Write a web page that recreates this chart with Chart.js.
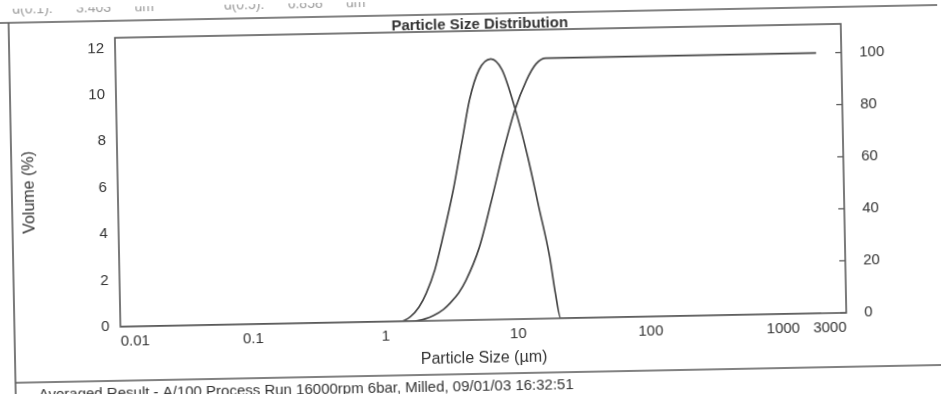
<!DOCTYPE html>
<html>
<head>
<meta charset="utf-8">
<script src="https://cdn.jsdelivr.net/npm/chart.js@4.4.0/dist/chart.umd.min.js"></script>
<style>
  html, body { margin: 0; padding: 0; background: #fff; overflow: hidden; }
  /* the scan is slightly tilted */
  #wrap { width: 941px; height: 394px; transform: rotate(-1.1deg); transform-origin: 50% 50%; }
</style>
</head>
<body>
<div id="wrap"><canvas id="psd" width="941" height="394"></canvas></div>
<script>
// x ticks (µm) and y ticks
const sizeTicks = [0.01, 0.1, 1, 10, 100, 1000, 3000];
const volTicks = [0, 2, 4, 6, 8, 10, 12];
const cumTicks = [0, 20, 40, 60, 80, 100];

// frequency curve, Volume (%)
const freqSize = [0.01, 1.3, 1.55, 1.8, 2.05, 2.4, 2.75, 3.39, 4.03, 4.63, 5.52, 6.8, 8.23, 10.1, 12.5, 14.9, 17.7, 19.3, 21.0, 1936];
const freqVol  = [0, 0, 0.2, 0.6, 1.19, 2.2, 3.46, 5.61, 7.76, 9.48, 10.77, 11.23, 10.75, 9.15, 6.98, 4.81, 2.65, 1.09, 0, 0];

// cumulative curve, right axis (%)
const cumSize = [0.01, 1.65, 2.0, 2.31, 2.75, 3.11, 3.6, 4.10, 5.23, 6.56, 8.23, 10.1, 12.5, 14.9, 17.7, 1936];
const cumVol  = [0, 0, 0.8, 2.0, 4.3, 6.8, 10.5, 15.2, 27.8, 45.7, 64.8, 80, 91.5, 97.9, 100, 100];

const ink = '#474747';
const txt = '#333';
const fam = '"Liberation Sans", Arial, sans-serif';

const toPts = (xs, ys) => xs.map((x, i) => ({ x: x, y: ys[i] }));

// frame, titles and right-axis tick marks
const paperPlugin = {
  id: 'paper',
  afterDraw(chart) {
    const ctx = chart.ctx;
    const a = chart.chartArea;
    ctx.save();
    ctx.strokeStyle = '#5a5a5a';
    ctx.lineWidth = 1.6;
    // plot box
    ctx.strokeRect(a.left, a.top, a.right - a.left, a.bottom - a.top);
    // page frame
    ctx.beginPath();
    ctx.moveTo(0, 14); ctx.lineTo(941, 14);
    ctx.moveTo(12, 14); ctx.lineTo(12, 394);
    ctx.moveTo(12, 374); ctx.lineTo(941, 374);
    ctx.stroke();
    // inner ticks on right axis
    const y2 = chart.scales.y2;
    ctx.lineWidth = 1.2;
    ctx.beginPath();
    cumTicks.forEach(v => {
      const py = y2.getPixelForValue(v);
      ctx.moveTo(a.right - 6, py); ctx.lineTo(a.right, py);
    });
    ctx.stroke();

    ctx.fillStyle = txt;
    ctx.textBaseline = 'middle';
    ctx.textAlign = 'center';
    ctx.font = 'bold 15px ' + fam;
    ctx.fillText('Particle Size Distribution', (a.left + a.right) / 2 + 2, 25);

    // left axis title
    ctx.save();
    ctx.translate(30, 184);
    ctx.rotate(-Math.PI / 2);
    ctx.font = '16px ' + fam;
    ctx.fillText('Volume (%)', 0, 0);
    ctx.restore();

    ctx.textAlign = 'left';
    ctx.font = '15px ' + fam;
    ctx.fillText('Averaged Result - A/100 Process Run 16000rpm 6bar, Milled, 09/01/03 16:32:51', 35, 387);

    ctx.fillStyle = '#9a9a9a';
    ctx.font = '14px ' + fam;
    ctx.fillText('d(0.1):      3.403      um                  d(0.5):      6.858      um', 16, 1);
    ctx.restore();
  }
};

new Chart(document.getElementById('psd'), {
  type: 'line',
  data: {
    datasets: [
      {
        label: 'Volume (%)',
        data: toPts(freqSize, freqVol),
        yAxisID: 'y',
        borderColor: ink,
        borderWidth: 1.7,
        pointRadius: 0,
        fill: false,
        cubicInterpolationMode: 'monotone'
      },
      {
        label: 'Cumulative (%)',
        data: toPts(cumSize, cumVol),
        yAxisID: 'y2',
        borderColor: ink,
        borderWidth: 1.7,
        pointRadius: 0,
        fill: false,
        cubicInterpolationMode: 'monotone'
      }
    ]
  },
  options: {
    responsive: false,
    animation: false,
    layout: { padding: { left: 18, right: 0, top: 31, bottom: 0 } },
    plugins: { legend: { display: false }, tooltip: { enabled: false } },
    scales: {
      x: {
        type: 'logarithmic',
        min: 0.01,
        max: 3000,
        afterBuildTicks: s => { s.ticks = sizeTicks.map(v => ({ value: v })); },
        afterFit: s => { s.height = 74; },
        grid: { display: false, drawTicks: false },
        border: { display: false },
        ticks: {
          autoSkip: false,
          maxRotation: 0,
          align: 'inner',
          padding: 6,
          color: txt,
          font: { family: fam, size: 15 },
          callback: v => String(v)
        },
        title: {
          display: true,
          text: 'Particle Size (µm)',
          color: txt,
          font: { family: fam, size: 16 },
          padding: { top: 0, bottom: 26 }
        }
      },
      y: {
        position: 'left',
        min: 0,
        max: 12.45,
        afterBuildTicks: s => { s.ticks = volTicks.map(v => ({ value: v })); },
        afterFit: s => { s.width = 100; },
        grid: { display: false, drawTicks: false },
        border: { display: false },
        ticks: { padding: 11, color: txt, font: { family: fam, size: 15 } }
      },
      y2: {
        position: 'right',
        min: 0,
        max: 111,
        afterBuildTicks: s => { s.ticks = cumTicks.map(v => ({ value: v })); },
        afterFit: s => { s.width = 97; },
        grid: { display: false, drawTicks: false },
        border: { display: false },
        ticks: { padding: 18, color: txt, font: { family: fam, size: 15 } }
      }
    }
  },
  plugins: [paperPlugin]
});
</script>
</body>
</html>
